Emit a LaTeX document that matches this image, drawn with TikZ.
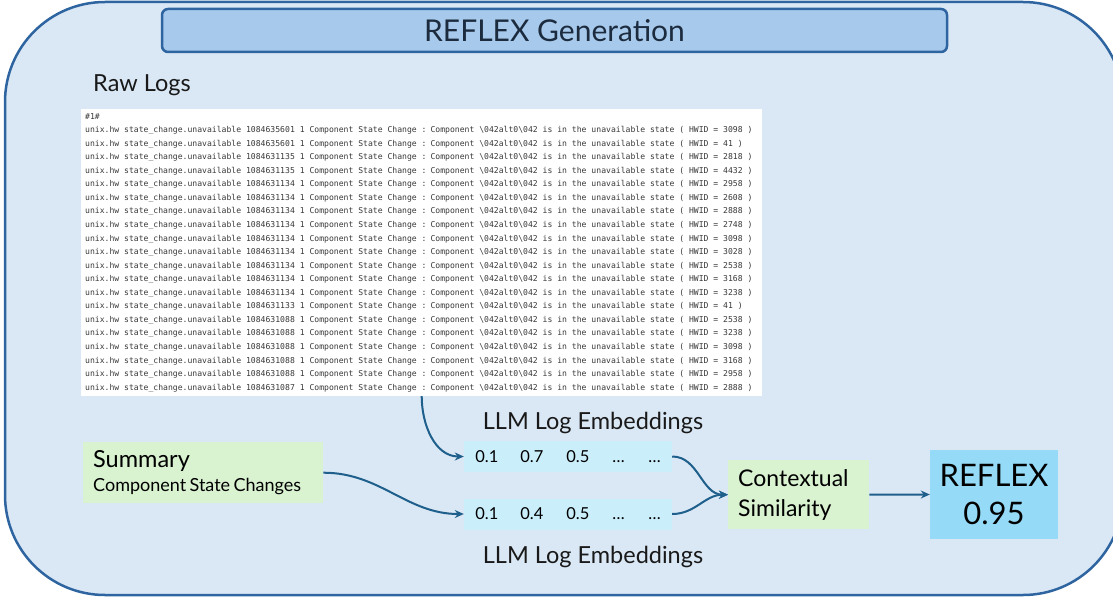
\documentclass[tikz,border=0pt]{standalone}
\usepackage{fontspec}
\setmainfont{Lato}
\newfontfamily\logfont{DejaVu Sans Mono}
\usetikzlibrary{arrows.meta}

\definecolor{framefill}{HTML}{DAE8F5}
\definecolor{framedraw}{HTML}{2E65A0}
\definecolor{titlefill}{HTML}{A7CAEC}
\definecolor{titletext}{HTML}{1C2B3E}
\definecolor{linkblue}{HTML}{1F5F8C}
\definecolor{vecfill}{HTML}{CBEEFB}
\definecolor{greenfill}{HTML}{D9F2D0}
\definecolor{scorefill}{HTML}{95DBF7}

\newlength{\logcharwd}
\newcommand{\logspacing}{\settowidth{\logcharwd}{0}\spaceskip=\logcharwd\relax}
\newcommand{\logline}[2]{unix.hw state\_change.unavailable #1 1 Component State Change : Component \textbackslash 042alt0\textbackslash 042 is in the unavailable state ( HWID = #2 )}
\newcommand{\vecrow}[2]{\makebox[45pt][l]{0.1}\makebox[46pt][l]{#1}\makebox[46pt][l]{#2}\makebox[36pt][l]{\dots}\dots}

\begin{document}
\begin{tikzpicture}[x=1pt, y=-1pt,
    arr/.style={draw=linkblue, line width=2pt, -{Stealth[length=9pt, width=8pt]}},
    caption/.style={inner sep=0pt, text=black!90, font=\fontsize{23.5}{28}\selectfont},
    titlebox/.style={draw=framedraw, fill=titlefill, line width=2.5pt, rounded corners=6pt,
      minimum width=785pt, minimum height=43pt, text=titletext, font=\fontsize{30}{34}\selectfont},
    logbox/.style={fill=white, anchor=north west, inner sep=4pt, text width=673pt, align=left,
      text=black!78, font=\logfont\fontsize{8.1}{13.55}\selectfont},
    vecbox/.style={fill=vecfill, minimum width=208pt, minimum height=31pt, inner sep=0pt,
      font=\fontsize{16.5}{19}\selectfont},
    greenbox/.style={fill=greenfill, anchor=north west, inner xsep=10pt, inner ysep=0pt, align=left},
    scorebox/.style={fill=scorefill, minimum width=128pt, minimum height=89pt, align=center,
      font=\fontsize{31}{38}\selectfont}]
  \useasboundingbox (0, 0) rectangle (1113, 599);
  \draw[fill=framefill, draw=framedraw, line width=2.5pt, rounded corners=100pt] (5, 2) rectangle (1123, 595);
  \node[titlebox] (title) at (554.5, 30.5) {REFLEX Generation};
  \node[caption, anchor=west] (rawlabel) at (93, 85) {Raw Logs};
  \node[logbox] (logs) at (81, 109) {\logspacing\#1\#\\
    \logline{1084635601}{3098}\\
    \logline{1084635601}{41}\\
    \logline{1084631135}{2818}\\
    \logline{1084631135}{4432}\\
    \logline{1084631134}{2958}\\
    \logline{1084631134}{2608}\\
    \logline{1084631134}{2888}\\
    \logline{1084631134}{2748}\\
    \logline{1084631134}{3098}\\
    \logline{1084631134}{3028}\\
    \logline{1084631134}{2538}\\
    \logline{1084631134}{3168}\\
    \logline{1084631134}{3238}\\
    \logline{1084631133}{41}\\
    \logline{1084631088}{2538}\\
    \logline{1084631088}{3238}\\
    \logline{1084631088}{3098}\\
    \logline{1084631088}{3168}\\
    \logline{1084631088}{2958}\\
    \logline{1084631087}{2888}};
  \node[caption] (embtop) at (593, 423) {LLM Log Embeddings};
  \node[vecbox] (emb1) at (568, 456.5) {\vecrow{0.7}{0.5}};
  \node[vecbox] (emb2) at (568, 514) {\vecrow{0.4}{0.5}};
  \node[caption] (embbottom) at (593, 557) {LLM Log Embeddings};
  \node[greenbox, text width=220pt, minimum height=61pt] (summary) at (83, 442)
    {{\fontsize{23.5}{27}\selectfont Summary}\\[6pt]{\fontsize{18}{20}\selectfont Component State Changes}};
  \node[greenbox, text width=121pt, minimum height=69pt, font=\fontsize{23}{30}\selectfont] (ctx) at (728, 460)
    {Contextual\\Similarity};
  \node[scorebox] (reflex) at (994, 494.5) {REFLEX\\0.95};
  \draw[arr] (logs.south) to[out=-90, in=180] (emb1.west);
  \draw[arr] (summary.east) to[out=0, in=180] (emb2.west);
  \draw[arr] (emb1.east) to[out=0, in=180] (ctx.west);
  \draw[arr] (emb2.east) to[out=0, in=180] (ctx.west);
  \draw[arr] (ctx.east) -- (reflex.west);
\end{tikzpicture}
\end{document}
